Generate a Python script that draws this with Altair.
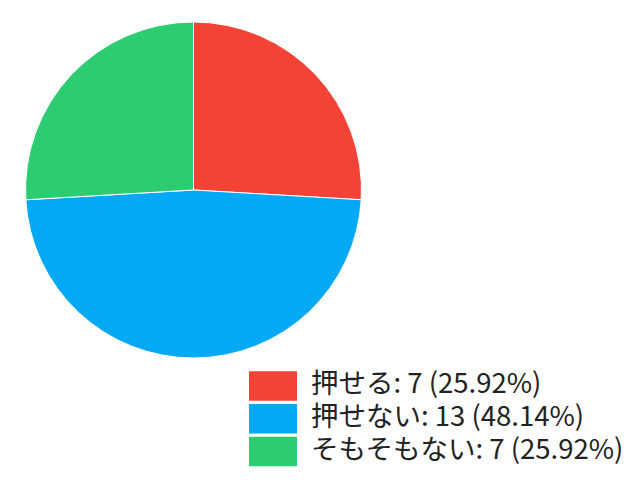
import altair as alt
import pandas as pd

categories = ["押せる", "押せない", "そもそもない"]
counts = [7, 13, 7]
percent_labels = ["25.92%", "48.14%", "25.92%"]
colors = ["#F44336", "#03A9F4", "#2ECC71"]

df = pd.DataFrame({
    "category": categories,
    "count": counts,
    "order": list(range(len(categories))),
    "label": [f"{c}: {n} ({p})" for c, n, p in zip(categories, counts, percent_labels)],
})

color_scale = alt.Scale(domain=categories, range=colors)
font = "Noto Sans CJK JP"

pie = alt.Chart(df).mark_arc(radius=168, stroke="white", strokeWidth=1).encode(
    theta=alt.Theta("count:Q", stack=True),
    order=alt.Order("order:Q"),
    color=alt.Color("category:N", scale=color_scale, legend=None),
    x=alt.value(185.5),
    y=alt.value(182),
)

legend_y = alt.Y(
    "category:N",
    scale=alt.Scale(type="point", domain=categories, range=[378, 443.5], padding=0),
    axis=None,
)

swatch = alt.Chart(df).mark_point(
    shape="M-1,-0.61L1,-0.61L1,0.61L-1,0.61Z", filled=True, opacity=1, size=48 * 48, strokeWidth=0
).encode(
    x=alt.value(265),
    y=legend_y,
    color=alt.Color("category:N", scale=color_scale, legend=None),
)

text = alt.Chart(df).mark_text(
    align="left", baseline="middle", font=font, fontSize=27.5, color="#222222", dy=-1
).encode(
    x=alt.value(303),
    y=legend_y,
    text="label:N",
)

chart = alt.layer(pie, swatch, text).properties(
    width=624, height=464, autosize=alt.AutoSizeParams(type="none"), padding=0
).configure_view(stroke=None)

chart.save("out.html", embed_options={"renderer": "svg", "actions": False})
